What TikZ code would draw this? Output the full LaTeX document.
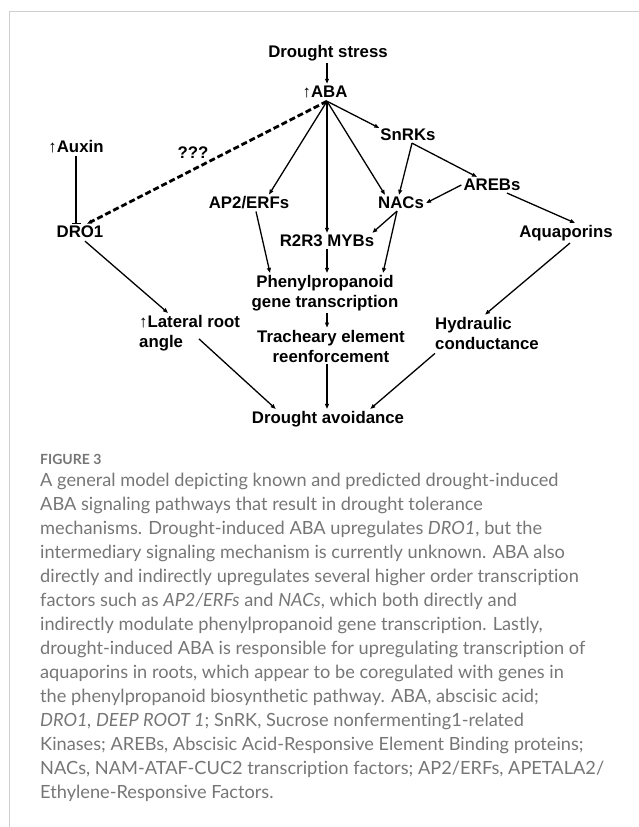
\documentclass[tikz,border=0pt]{standalone}
\usepackage{fontspec}
\setmainfont{Liberation Sans}
\newfontfamily\captfont{Lato}[Ligatures=NoCommon]
\usetikzlibrary{arrows.meta,calc}

\definecolor{capgray}{RGB}{118,118,118}
\definecolor{framegray}{RGB}{206,206,206}
\newcommand{\upar}{\textmd{↑}}

\begin{document}
\begin{tikzpicture}[x=1pt,y=-1pt]
      \useasboundingbox (0,0) rectangle (639,827);
      % frame of the figure panel
      \draw[framegray,line width=1.5pt] (9.5,827) -- (9.5,11.5) -- (639,11.5);
      \begin{scope}[every node/.style={font=\bfseries\fontsize{16.8}{20}\selectfont,inner sep=2pt,align=center}]
        \node (stress) at (328,53) {Drought stress};
        \node (aba) at (325,92) {\upar ABA};
        \node (auxin) at (76,147) {\upar Auxin};
        \node (dro) at (80,232) {DRO1};
        \node (qmark) at (193,153) {???};
        \node (snrk) at (408,135) {SnRKs};
        \node (areb) at (492,185) {AREBs};
        \node (ap2) at (249,203) {AP2/ERFs};
        \node (nac) at (401,203) {NACs};
        \node (myb) at (327,241) {R2R3 MYBs};
        \node (aqua) at (566,233) {Aquaporins};
        \node (phen) at (325,293) {Phenylpropanoid\\gene transcription};
        \node[align=left,anchor=west] (lat) at (137,333) {\upar Lateral root\\angle};
        \node (trach) at (331,346) {Tracheary element\\reenforcement};
        \node[align=left,anchor=west] (hyd) at (433,333) {Hydraulic\\conductance};
        \node (avoid) at (328,419) {Drought avoidance};
      \end{scope}
      \coordinate (hub) at ($(aba.south)+(2,1)$);
      \begin{scope}[every edge/.style={draw=black,line width=1.3pt,-{Triangle[length=5pt,width=3.8pt]}}]
          \path (hub |- stress.south) edge (hub |- aba.north);
          \path (hub) edge ($(snrk.west)+(1,-7)$);
          \path (hub) edge ($(ap2.north)+(20,0)$);
          \path (hub) edge (hub |- myb.north);
          \path (hub) edge ($(nac.north)+(-16,0)$);
          \path (hub) edge[dash pattern=on 6pt off 3pt,line width=2.8pt] ($(dro.north)+(7,0)$);
          \path (auxin.south) edge[-{Bar[width=9pt]}] (auxin.south |- dro.north);
          \path ($(snrk.south)+(4,0)$) edge ($(nac.north)+(-2,0)$);
          \path ($(snrk.south)+(4,0)$) edge ($(areb.north)+(-15,0)$);
          \path (areb.west) edge (nac.east);
          \path ($(areb.south)+(15,0)$) edge ($(aqua.north)+(9,0)$);
          \path ($(nac.south)+(-4,0)$) edge ($(myb.north east)+(-4,0)$);
          \path ($(nac.south)+(-4,0)$) edge ($(phen.north)+(58,0)$);
          \path ($(ap2.south)+(7,0)$) edge ($(phen.north)+(-55,0)$);
          \path (hub |- myb.south) edge (hub |- phen.north);
          \path (hub |- phen.south) edge (hub |- trach.north);
          \path ($(dro.south)+(5,1)$) edge ($(lat.north west)+(31,0)$);
          \path ($(aqua.south)+(4,0)$) edge ($(hyd.north west)+(52,0)$);
          \path ($(lat.north west)+(62,26)$) edge ($(avoid.north west)+(26,0)$);
          \path (hub |- trach.south) edge (hub |- avoid.north);
          \path ($(hyd.south west)+(2,2)$) edge ($(avoid.north east)+(-36,0)$);
      \end{scope}
      % caption
      \node[anchor=north west,inner sep=0pt,text=capgray,font=\captfont\bfseries\fontsize{14}{16}\selectfont] (fig) at (40,454) {FIGURE 3};
      \node[anchor=north west,inner sep=0pt,align=left,text=capgray,font=\captfont\fontsize{18.2}{24}\selectfont] (caption) at (40,473)
        {A general model depicting known and predicted drought-induced\\
         ABA signaling pathways that result in drought tolerance\\
         mechanisms. Drought-induced ABA upregulates \textit{DRO1}, but the\\
         intermediary signaling mechanism is currently unknown. ABA also\\
         directly and indirectly upregulates several higher order transcription\\
         factors such as \textit{AP2/ERFs} and \textit{NACs}, which both directly and\\
         indirectly modulate phenylpropanoid gene transcription. Lastly,\\
         drought-induced ABA is responsible for upregulating transcription of\\
         aquaporins in roots, which appear to be coregulated with genes in\\
         the phenylpropanoid biosynthetic pathway. ABA, abscisic acid;\\
         \textit{DRO1, DEEP ROOT 1}; SnRK, Sucrose nonfermenting1-related\\
         Kinases; AREBs, Abscisic Acid-Responsive Element Binding proteins;\\
         NACs, NAM-ATAF-CUC2 transcription factors; AP2/ERFs, APETALA2/\\
         Ethylene-Responsive Factors.};
    \end{tikzpicture}
\end{document}
